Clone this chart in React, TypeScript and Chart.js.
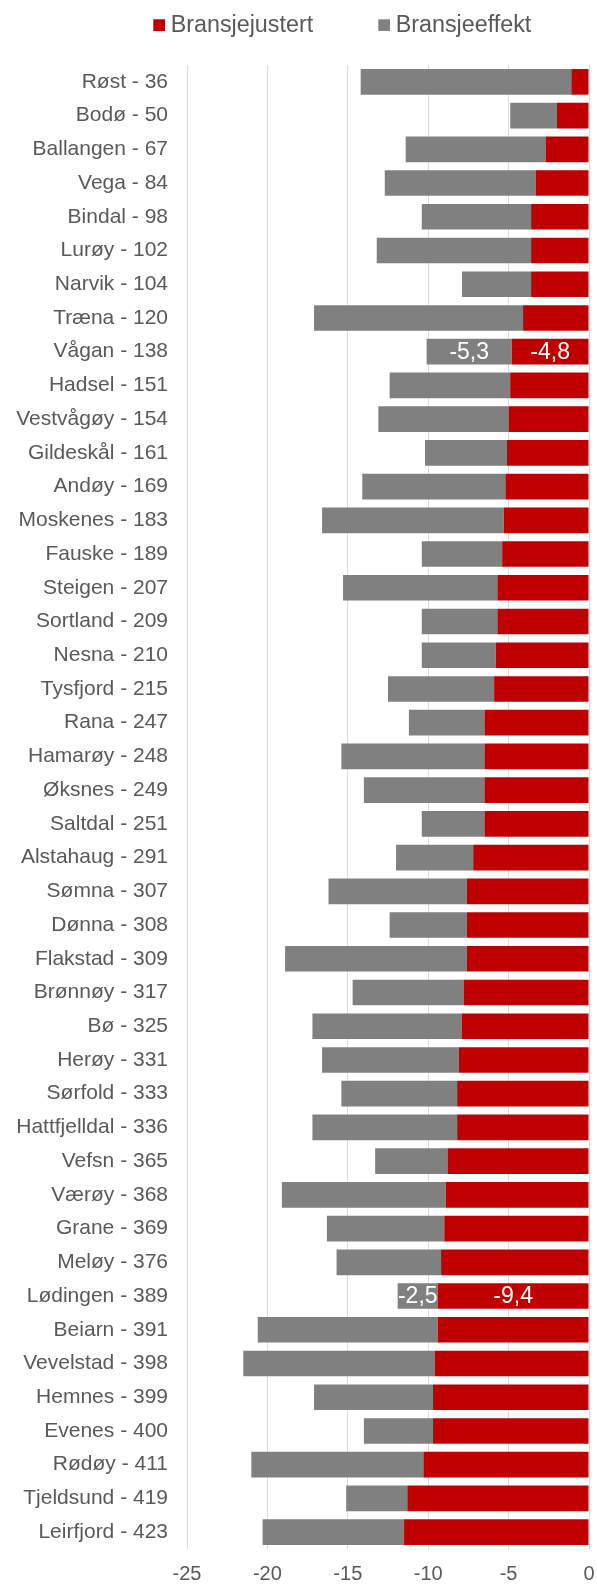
import React, { useEffect, useRef } from "react";
import { Chart, registerables } from "chart.js";

Chart.register(...registerables);

const categories = [
  "Røst - 36", "Bodø - 50", "Ballangen - 67", "Vega - 84", "Bindal - 98", "Lurøy - 102",
  "Narvik - 104", "Træna - 120", "Vågan - 138", "Hadsel - 151", "Vestvågøy - 154",
  "Gildeskål - 161", "Andøy - 169", "Moskenes - 183", "Fauske - 189", "Steigen - 207",
  "Sortland - 209", "Nesna - 210", "Tysfjord - 215", "Rana - 247", "Hamarøy - 248",
  "Øksnes - 249", "Saltdal - 251", "Alstahaug - 291", "Sømna - 307", "Dønna - 308",
  "Flakstad - 309", "Brønnøy - 317", "Bø - 325", "Herøy - 331", "Sørfold - 333",
  "Hattfjelldal - 336", "Vefsn - 365", "Værøy - 368", "Grane - 369", "Meløy - 376",
  "Lødingen - 389", "Beiarn - 391", "Vevelstad - 398", "Hemnes - 399", "Evenes - 400",
  "Rødøy - 411", "Tjeldsund - 419", "Leirfjord - 423",
];

const bransjejustert = [
  -1.1, -2.0, -2.7, -3.3, -3.6, -3.6, -3.6, -4.1, -4.8, -4.9, -5.0,
  -5.1, -5.2, -5.3, -5.4, -5.7, -5.7, -5.8, -5.9, -6.5, -6.5,
  -6.5, -6.5, -7.2, -7.6, -7.6, -7.6, -7.8, -7.9, -8.1, -8.2,
  -8.2, -8.8, -8.9, -9.0, -9.2, -9.4, -9.4, -9.6, -9.7, -9.7,
  -10.3, -11.3, -11.5,
];

const bransjeeffekt = [
  -13.1, -2.9, -8.7, -9.4, -6.8, -9.6, -4.3, -13.0, -5.3, -7.5, -8.1,
  -5.1, -8.9, -11.3, -5.0, -9.6, -4.7, -4.6, -6.6, -4.7, -8.9,
  -7.5, -3.9, -4.8, -8.6, -4.8, -11.3, -6.9, -9.3, -8.5, -7.2,
  -9.0, -4.5, -10.2, -7.3, -6.5, -2.5, -11.2, -11.9, -7.4, -4.3,
  -10.7, -3.8, -8.8,
];

const seriesNames = ["Bransjejustert", "Bransjeeffekt"];
const seriesColors = ["#C00000", "#808080"];
const labelledCategories = ["Vågan - 138", "Lødingen - 389"];

const xMin = -25;
const xMax = 0;
const xStep = 5;

const FONT = "'Liberation Sans', Arial, sans-serif";
const TEXT = "#595959";

function fmt(v: number): string {
  return v.toFixed(1).replace(".", ",");
}

export default function App() {
  const ref = useRef<HTMLCanvasElement>(null);

  useEffect(() => {
    if (!ref.current) return;

    const legendPlugin = {
      id: "customLegend",
      afterDraw(chart: any) {
        const ctx = chart.ctx;
        const items = [
          { box: 153.3, text: 170.7 },
          { box: 378.3, text: 395.7 },
        ];
        ctx.save();
        ctx.font = `23.3px ${FONT}`;
        ctx.textBaseline = "alphabetic";
        ctx.textAlign = "left";
        chart.data.datasets.forEach((ds: any, i: number) => {
          const it = items[i];
          ctx.fillStyle = ds.backgroundColor;
          ctx.fillRect(it.box, 19.3, 11.7, 11.7);
          ctx.fillStyle = TEXT;
          ctx.fillText(ds.label, it.text, 31.7);
        });
        ctx.restore();
      },
    };

    const labelPlugin = {
      id: "segLabels",
      afterDatasetsDraw(chart: any) {
        const ctx = chart.ctx;
        ctx.save();
        ctx.font = `23px ${FONT}`;
        ctx.fillStyle = "#FFFFFF";
        ctx.textAlign = "center";
        ctx.textBaseline = "middle";
        chart.data.datasets.forEach((ds: any, di: number) => {
          const meta = chart.getDatasetMeta(di);
          chart.data.labels.forEach((lab: string, idx: number) => {
            if (!labelledCategories.includes(lab)) return;
            const el = meta.data[idx];
            const c = el.getCenterPoint();
            ctx.fillText(fmt(ds.data[idx]), c.x, c.y + 1);
          });
        });
        ctx.restore();
      },
    };

    const chart = new Chart(ref.current, {
      type: "bar",
      data: {
        labels: categories,
        datasets: [
          {
            label: seriesNames[0],
            data: bransjejustert,
            backgroundColor: seriesColors[0],
            borderWidth: 0,
            barPercentage: 0.76,
            categoryPercentage: 1,
          },
          {
            label: seriesNames[1],
            data: bransjeeffekt,
            backgroundColor: seriesColors[1],
            borderWidth: 0,
            barPercentage: 0.76,
            categoryPercentage: 1,
          },
        ],
      },
      options: {
        indexAxis: "y",
        responsive: false,
        animation: false,
        layout: { padding: { top: 65, right: 8, left: 0, bottom: 0 } },
        plugins: {
          legend: { display: false },
          tooltip: { enabled: false },
        },
        scales: {
          x: {
            stacked: true,
            min: xMin,
            max: xMax,
            grid: { color: "#D9D9D9", lineWidth: 1, drawTicks: false },
            border: { display: false },
            ticks: {
              stepSize: xStep,
              color: TEXT,
              font: { family: FONT, size: 20 },
              padding: 13,
              callback: (v: any) => String(v),
            },
            afterFit: (s: any) => {
              s.height = 35;
              s.paddingLeft = 0;
              s.paddingRight = 0;
            },
          },
          y: {
            stacked: true,
            grid: { display: false, drawTicks: false },
            border: { display: false },
            ticks: {
              color: TEXT,
              font: { family: FONT, size: 21 },
              padding: 19,
              autoSkip: false,
            },
            afterFit: (s: any) => {
              s.width = 187;
            },
          },
        },
      },
      plugins: [legendPlugin, labelPlugin],
    } as any);

    return () => chart.destroy();
  }, []);

  return (
    <div style={{ position: "absolute", left: 0, top: 0, width: 597, height: 1584, background: "#fff" }}>
      <canvas ref={ref} width={597} height={1584} style={{ display: "block" }} />
    </div>
  );
}
